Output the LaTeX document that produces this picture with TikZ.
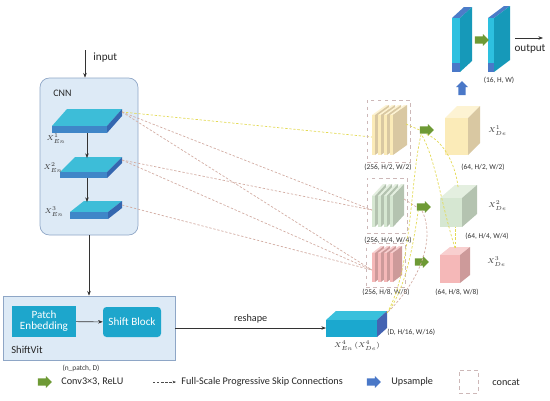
\documentclass[tikz,border=0pt]{standalone}
\usepackage{fontspec}
\setmainfont{Carlito}
\usepackage{tikz}
\usetikzlibrary{arrows.meta, positioning, shapes.arrows, calc}
\definecolor{boxfill}{HTML}{DDEAF6}
\definecolor{boxdraw}{HTML}{8EA6C6}
\definecolor{tealblk}{HTML}{1DA6CC}
\definecolor{slabtop}{HTML}{3DBDD8}
\definecolor{slabfrt}{HTML}{3F86C8}
\definecolor{slabside}{HTML}{3467B0}
\definecolor{convgreen}{HTML}{6E9A35}
\definecolor{upblue}{HTML}{4A78C8}
\definecolor{skipyel}{HTML}{E3DA55}
\definecolor{skippink}{HTML}{D3ADA3}
\definecolor{catgray}{HTML}{CDB8B8}
\definecolor{yelfrt}{HTML}{FBEBB8}
\definecolor{yeltop}{HTML}{FDF3D3}
\definecolor{yelside}{HTML}{D9C8A2}
\definecolor{grnfrt}{HTML}{D6E7D2}
\definecolor{grntop}{HTML}{E4EFE0}
\definecolor{grnside}{HTML}{B4C3B0}
\definecolor{redfrt}{HTML}{F5B8B8}
\definecolor{redtop}{HTML}{F8CFCF}
\definecolor{redside}{HTML}{CD9A9A}
\definecolor{xfrt}{HTML}{1BA8CF}
\definecolor{xtop}{HTML}{3AC0DC}
\definecolor{xside}{HTML}{4463B2}
\definecolor{outfrt}{HTML}{2DC0E0}
\definecolor{outtop}{HTML}{4C7CC8}
\definecolor{outside}{HTML}{1699B9}

% front top-left (#1,#2), width #3, height #4, depth (#5,#6), colours front/top/side
\newcommand{\cuboid}[9]{%
  \fill[#8] (#1,#2) -- ++(#5,#6) -- ++(#3,0) -- ++({-(#5)},{-(#6)}) -- cycle;
  \fill[#9] (#1+#3,#2) -- ++(#5,#6) -- ++(0,#4) -- ++({-(#5)},{-(#6)}) -- cycle;
  \fill[#7] (#1,#2) rectangle ++(#3,#4);
}
% four thin plates side by side (concat block)
\newcommand{\plates}[8]{%
  \foreach \i in {0,...,3}{\cuboid{#1+6*\i}{#2}{3}{#3}{#4}{#5}{#6}{#7}{#8}}
}
\newcommand{\shaft}{\rule{0pt}{2mm}}

\begin{document}
\begin{tikzpicture}[
    x=0.3mm, y=-0.3mm,
    txt/.style   = {font=\fontsize{8.7}{10}\selectfont, text=black!85, inner sep=1pt},
    big/.style   = {font=\fontsize{9.5}{11}\selectfont, text=black!85, inner sep=1pt},
    tiny/.style  = {font=\fontsize{6.3}{7}\selectfont, text=black!80, inner sep=1pt},
    panel/.style = {draw=boxdraw, fill=boxfill, line width=0.6pt},
    blk/.style   = {fill=tealblk, text=white, align=center,
                    font=\fontsize{9.5}{10.5}\selectfont, inner sep=1pt},
    arr/.style   = {-{Stealth[length=4pt,width=3pt]}, line width=0.5pt, black!80},
    skipY/.style = {dash pattern=on 2pt off 1.5pt, skipyel, line width=0.6pt},
    skipP/.style = {dash pattern=on 2pt off 1.5pt, skippink, line width=0.6pt},
    conv/.style  = {single arrow, fill=convgreen, minimum height=4.2mm,
                    single arrow head extend=0.7mm, inner sep=0pt},
    upsm/.style  = {single arrow, fill=upblue, minimum height=4.2mm,
                    single arrow head extend=0.7mm, inner sep=0pt},
    catbox/.style= {draw=catgray, dashed, line width=0.5pt}
  ]
  \useasboundingbox (0,0) rectangle (550,400);

  %% CNN encoder
  \node[panel, rounded corners=8pt, minimum width=29.4mm, minimum height=47.1mm] (cnn) at (89,156.5) {};
  \node[txt, font=\fontsize{8.5}{10}\selectfont, anchor=west] (cnnlbl) at (52,93) {CNN};
  \coordinate (in) at (85,50);
  \draw[arr] (in) -- (in |- cnn.north);
  \node[big, anchor=west] (inlbl) at (92,58) {input};

  \cuboid{52}{126}{55}{7}{15}{-17}{slabfrt}{slabtop}{slabside}
  \cuboid{60}{172}{47}{6}{15}{-15}{slabfrt}{slabtop}{slabside}
  \cuboid{70}{212}{38}{7}{14}{-11}{slabfrt}{slabtop}{slabside}
  \coordinate (en1) at (122,112);
  \coordinate (en2) at (122,160);
  \coordinate (en3) at (122,205);
  \coordinate (en1b) at (87,133); \coordinate (en2t) at (87,158);
  \coordinate (en2b) at (87,178); \coordinate (en3t) at (87,202);
  \draw[arr] (en1b) -- (en2t);
  \draw[arr] (en2b) -- (en3t);
  \node[tiny] (en1l) at (56,139) {$X^{1}_{En}$};
  \node[tiny] (en2l) at (53,168) {$X^{2}_{En}$};
  \node[tiny] (en3l) at (54,212) {$X^{3}_{En}$};

  %% ShiftVit
  \node[panel, minimum width=51.6mm, minimum height=19.2mm] (vit) at (89,328) {};
  \node[blk, minimum width=19.2mm, minimum height=9.3mm] (patch) at (44,321.5) {Patch\\[-1pt]Enbedding};
  \node[blk, rounded corners=3pt, minimum width=17.4mm, minimum height=9mm] (shift) at (132,322) {Shift Block};
  \node[txt, font=\fontsize{9}{10}\selectfont, anchor=west] (vitlbl) at (10,350) {ShiftVit};
  \draw[arr] (patch) -- (shift);
  \draw[arr] (cnn.south -| vit.north) -- (vit.north);
  \node[tiny] (npatch) at (81,368) {(n\_patch, D)};

  %% bottleneck X4
  \cuboid{326}{320}{51}{17}{10}{-9}{xfrt}{xtop}{xside}
  \coordinate (x4w) at (326,328);
  \coordinate (x4) at (387,313);
  \draw[arr] (vit.east |- x4w) -- node[txt, above=3pt]{reshape} (x4w);
  \node[tiny, anchor=west] (x4dim) at (386,332) {(D, H/16, W/16)};
  \node[tiny] (x4l) at (357,346) {$X^{4}_{En}\,(X^{4}_{De})$};

  %% skip connections from the encoder
  \coordinate (ycat) at (372,137);
  \coordinate (gcat) at (372,210);
  \coordinate (rcat) at (372,270);
  \draw[skipY] (en1) -- (ycat);
  \draw[skipP] (en1) -- (gcat);
  \draw[skipP] (en1) -- (rcat);
  \draw[skipP] (en2) -- (gcat);
  \draw[skipP] (en2) -- (rcat);
  \draw[skipP] (en3) -- (rcat);

  %% concat blocks
  \node[catbox, minimum width=12.9mm, minimum height=18.6mm] (ycatbox) at (388.5,131) {};
  \node[catbox, minimum width=12mm, minimum height=16.5mm] (gcatbox) at (387,205.5) {};
  \node[catbox, minimum width=11.7mm, minimum height=13.2mm] (rcatbox) at (385.5,265) {};
  \plates{372}{115}{40}{14}{-10}{yelfrt}{yeltop}{yelside}
  \plates{372}{196}{31}{11}{-12}{grnfrt}{grntop}{grnside}
  \plates{372}{253}{29}{9}{-7}{redfrt}{redtop}{redside}
  \node[tiny] (ycatl) at (388,167) {(256, H/2, W/2)};
  \node[tiny] (gcatl) at (388,240) {(256, H/4, W/4)};
  \node[tiny] (rcatl) at (386,292) {(256, H/8, W/8)};

  %% decoder
  \cuboid{445}{118}{23}{37}{12}{-12}{yelfrt}{yeltop}{yelside}
  \cuboid{440}{198}{22}{29}{15}{-13}{grnfrt}{grntop}{grnside}
  \cuboid{440}{255}{20}{28}{10}{-8}{redfrt}{redtop}{redside}
  \coordinate (gtop) at (458,187);
  \coordinate (gbot) at (455,227);
  \coordinate (rtop) at (455,248);
  \node[tiny, anchor=west] (de1l) at (487,131) {$X^{1}_{De}$};
  \node[tiny, anchor=west] (de2l) at (487,206) {$X^{2}_{De}$};
  \node[tiny, anchor=west] (de3l) at (486,262) {$X^{3}_{De}$};
  \node[tiny] (de1d) at (483,167) {(64, H/2, W/2)};
  \node[tiny] (de2d) at (487,236) {(64, H/4, W/4)};
  \node[tiny] (de3d) at (457,292) {(64, H/8, W/8)};

  \node[conv] (yconv) at (425,130) {\shaft};
  \node[conv] (gconv) at (422,207) {\shaft};
  \node[conv] (rconv) at (420,262) {\shaft};

  %% full-scale connections in the decoder
  \coordinate (ycatr) at (406,124);
  \coordinate (gcatr) at (404,199);
  \draw[skipY] (ycatr) -- (yconv.west);
  \draw[skipP] (gcatr) -- (gconv.west);
  \draw[skipY] (gtop) .. controls (455,160) and (440,138) .. (yconv.south);
  \draw[skipY] (rtop) .. controls (440,200) and (436,160) .. (yconv.south west);
  \draw[skipY] (rtop) -- (gbot);
  \draw[skipY] (x4) .. controls (412,270) and (410,180) .. (yconv.south west);
  \draw[skipY] (x4) .. controls (406,290) and (414,240) .. (gconv.south west);
  \draw[skipP] (gconv.south) .. controls (432,230) and (430,270) .. (x4);

  %% output head
  \node[upsm, rotate=90] (up) at (462,90) {\shaft};
  \cuboid{452}{18}{8}{54}{12}{-11}{outfrt}{outtop}{outside}
  \fill[upblue] (452,63) rectangle (460,72);
  \cuboid{488}{18}{6}{54}{16}{-12}{outfrt}{outtop}{outside}
  \fill[upblue] (488,63) rectangle (494,72);
  \node[conv] (oconv) at (480,40) {\shaft};
  \coordinate (o1) at (515,38);
  \coordinate (o2) at (543,38);
  \draw[arr] (o1) -- (o2);
  \node[big] (outlbl) at (530,49) {output};
  \node[tiny] (outd) at (499,80) {(16, H, W)};

  %% legend
  \node[conv] (lconv) at (43,382) {\shaft};
  \node[txt, anchor=west] (lconvt) at (60,382) {Conv3×3, ReLU};
  \coordinate (lsk1) at (153,382);
  \coordinate (lsk2) at (176,382);
  \draw[dash pattern=on 2pt off 1.5pt, -{Stealth[length=3pt]}, black!70, line width=0.4pt] (lsk1) -- (lsk2);
  \node[txt, anchor=west] (lskt) at (180,382) {Full-Scale Progressive Skip Connections};
  \node[upsm] (lup) at (372,382) {\shaft};
  \node[txt, anchor=west] (lupt) at (390,382) {Upsample};
  \node[catbox, minimum width=5.7mm, minimum height=6.9mm] (lcat) at (468.5,381.5) {};
  \node[txt, anchor=west] (lcatt) at (491,382) {concat};
\end{tikzpicture}
\end{document}
